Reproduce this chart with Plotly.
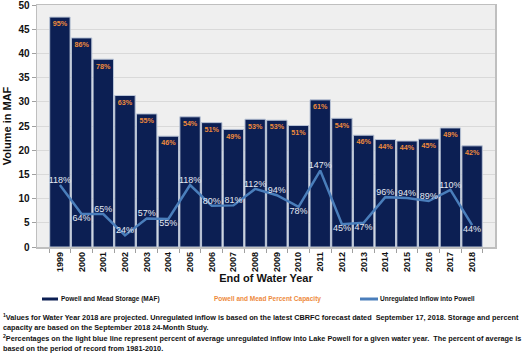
import plotly.graph_objects as go

years = [str(y) for y in range(1999, 2019)]
storage = [47.5, 43.2, 38.8, 31.3, 27.5, 22.9, 26.9, 25.7, 24.3, 26.4,
           26.2, 25.1, 30.4, 26.6, 23.1, 22.2, 21.9, 22.3, 24.6, 20.9]
capacity_pct = [95, 86, 78, 63, 55, 46, 54, 51, 49, 53,
                53, 51, 61, 54, 46, 44, 44, 45, 49, 42]
inflow = [12.8, 6.8, 6.8, 2.4, 5.9, 5.8, 12.8, 8.5, 8.6, 12.0,
          10.7, 8.3, 15.8, 4.7, 5.0, 10.3, 10.1, 9.5, 11.8, 4.5]
inflow_pct = [118, 64, 65, 24, 57, 55, 118, 80, 81, 112,
              94, 78, 147, 45, 47, 96, 94, 89, 110, 44]
inflow_label_pos = ["top center", "bottom center", "top center", "top center", "top center",
                    "bottom center", "top center", "top center", "top center", "top center",
                    "top center", "bottom center", "top center", "bottom center", "bottom center",
                    "top center", "top center", "top center", "top center", "bottom center"]

NAVY = "#0C1F53"
ORANGE = "#EE8A3C"
BLUE = "#4A7EBB"
FONT = "Liberation Sans"

fig = go.Figure()
fig.add_trace(go.Bar(
    x=years, y=storage,
    marker=dict(color=NAVY, line=dict(color="#B9C4D6", width=1)),
    text=[f"<b>{p}%</b>" for p in capacity_pct],
    textposition="inside", insidetextanchor="end", textangle=0,
    insidetextfont=dict(color=ORANGE, size=8, family=FONT),
    showlegend=False, cliponaxis=False, hoverinfo="skip",
))
fig.add_trace(go.Scatter(
    x=years, y=inflow, mode="lines+text",
    line=dict(color=BLUE, width=2.5),
    text=[f"{p}%" for p in inflow_pct],
    textposition=inflow_label_pos,
    textfont=dict(color="#E4E9F2", size=9, family=FONT),
    showlegend=False, cliponaxis=False, hoverinfo="skip",
))

L, R, T, B = 37, 35, 5, 117
W, H = 530, 364
pw, ph = W - L - R, H - T - B

def px(x):
    return (x - L) / pw

def py(y):
    return (H - B - y) / ph

def ann(text, x, y, size, color="#111", xanchor="center", yanchor="middle", **kw):
    return dict(text=text, x=px(x), y=py(y), xref="paper", yref="paper",
                xanchor=xanchor, yanchor=yanchor, showarrow=False,
                font=dict(size=size, color=color, family=FONT), **kw)

annotations = [
    ann("<b>Powell and Mead Storage (MAF)</b>", 59, 299, 6.5, xanchor="left"),
    ann("<b>Powell and Mead Percent Capacity</b>", 267, 299, 6.5, color=ORANGE),
    ann("<b>Unregulated Inflow into Powell</b>", 378, 299, 6.5, xanchor="left"),
    ann("<b><sup>1</sup>Values for Water Year 2018 are projected. Unregulated inflow is based on the latest CBRFC forecast dated  September 17, 2018. Storage and percent<br>capacity are based on the September 2018 24-Month Study.</b>",
        1, 310, 7.3, xanchor="left", yanchor="top", align="left"),
    ann("<b><sup>2</sup>Percentages on the light blue line represent percent of average unregulated inflow into Lake Powell for a given water year.  The percent of average is<br>based on the period of record from 1981-2010.</b>",
        1, 331, 7.3, xanchor="left", yanchor="top", align="left"),
]

shapes = [
    dict(type="line", xref="paper", yref="paper", x0=px(42), x1=px(58), y0=py(299), y1=py(299),
         line=dict(color=NAVY, width=3)),
    dict(type="line", xref="paper", yref="paper", x0=px(360), x1=px(378), y0=py(299), y1=py(299),
         line=dict(color=BLUE, width=3)),
]

fig.update_layout(
    width=W, height=H,
    margin=dict(l=L, r=R, t=T, b=B, autoexpand=False),
    paper_bgcolor="white", plot_bgcolor="#EFEFEF",
    bargap=0.06, hovermode=False,
    font=dict(family=FONT, color="#111"),
    annotations=annotations, shapes=shapes,
    xaxis=dict(type="category", tickangle=-90, tickson="boundaries", ticks="outside",
               ticklen=4, tickcolor="#A0A0A0", automargin=False,
               title=dict(text="<b>End of Water Year</b>", standoff=2,
                          font=dict(size=11, family=FONT, color="#111")),
               tickfont=dict(size=9, family=FONT, color="#111", weight="bold"),
               showline=True, linecolor="#BFBFBF", mirror=True, linewidth=1.5),
    yaxis=dict(range=[0, 50], dtick=5, ticks="outside", ticklen=4, tickcolor="#A0A0A0",
               automargin=False, ticklabeloverflow="allow",
               title=dict(text="<b>Volume in MAF</b>", standoff=4,
                          font=dict(size=11, family=FONT, color="#111")),
               tickfont=dict(size=10, family=FONT, color="#111", weight="bold"),
               gridcolor="#D9D9D9", showline=True, linecolor="#BFBFBF", mirror=True, linewidth=1.5,
               zeroline=False),
)

fig.write_html("out.html", config={"displayModeBar": False, "staticPlot": True},
               post_script="document.body.style.margin='0px';")
